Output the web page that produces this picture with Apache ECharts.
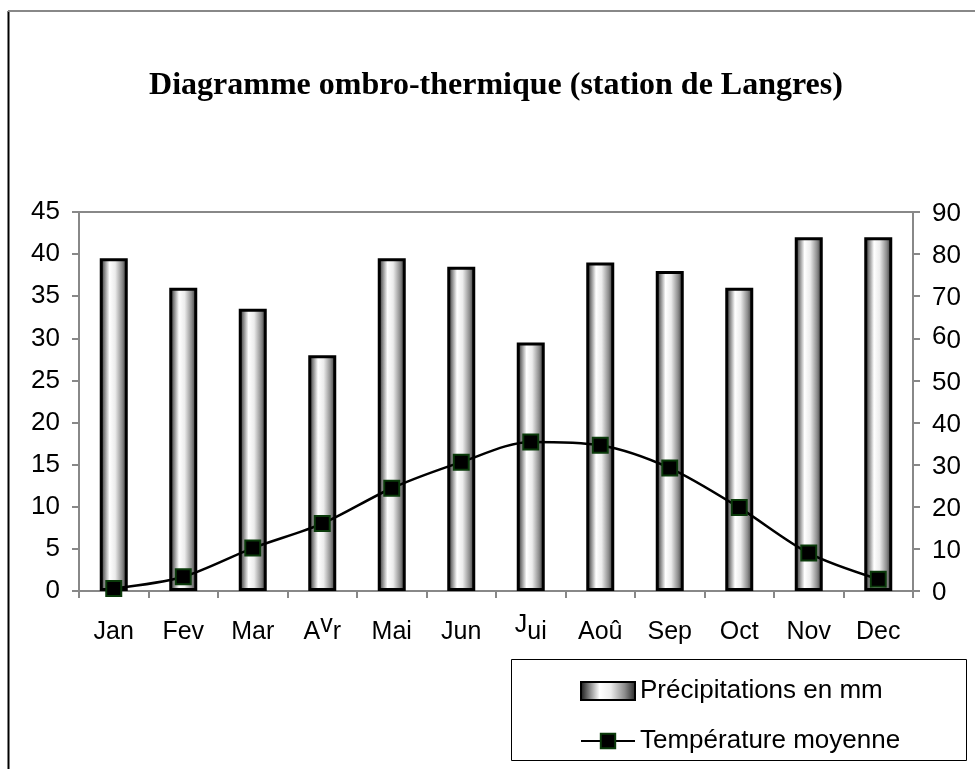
<!DOCTYPE html>
<html>
<head>
<meta charset="utf-8">
<script src="https://cdn.jsdelivr.net/npm/echarts@6/dist/echarts.min.js"></script>
<style>
  html, body { margin: 0; padding: 0; background: #fff; }
  #chart { width: 975px; height: 769px; }
</style>
</head>
<body>
<div id="chart"></div>
<script>
var months = ['Jan', 'Fev', 'Mar', 'Avr', 'Mai', 'Jun', 'Jui', 'Aoû', 'Sep', 'Oct', 'Nov', 'Dec'];
// precipitation in mm (right axis)
var precipitation = [79, 72, 67, 56, 79, 77, 59, 78, 76, 72, 84, 84];
// mean temperature in °C (left axis)
var temperature = [0.3, 1.7, 5.1, 8.0, 12.2, 15.3, 17.7, 17.3, 14.6, 9.9, 4.5, 1.4];
var tempTicks = [0, 45, 5];
var rainTicks = [0, 90, 10];

var chart = echarts.init(document.getElementById('chart'));

var barGradient = new echarts.graphic.LinearGradient(0, 0, 1, 0, [
  { offset: 0, color: '#111111' },
  { offset: 0.15, color: '#777777' },
  { offset: 0.35, color: '#ffffff' },
  { offset: 0.55, color: '#ececec' },
  { offset: 0.8, color: '#8c8c8c' },
  { offset: 1, color: '#222222' }
]);

var labelFont = 'Liberation Sans, Arial, sans-serif';
var richParts = {
  n: { fontSize: 25, fontFamily: labelFont, color: '#000', lineHeight: 32, verticalAlign: 'bottom' },
  u: { fontSize: 25, fontFamily: labelFont, color: '#000', lineHeight: 32, verticalAlign: 'top' }
};

function oddLabel(v) {
  // some glyphs sit higher in the original picture
  if (v === 'Avr') return '{n|A}{u|v}{n|r}';
  if (v === 'Jui') return '{u|J}{n|ui}';
  if (v === '60') return '{u|6}{n|0}';
  return '{n|' + v + '}';
}

var option = {
  backgroundColor: '#ffffff',
  animation: false,
  graphic: [
    { type: 'line', shape: { x1: 8.5, y1: 11, x2: 8.5, y2: 780 }, style: { stroke: '#000', lineWidth: 2 } },
    { type: 'line', shape: { x1: 8, y1: 11, x2: 980, y2: 11 }, style: { stroke: '#888', lineWidth: 2 } },
    {
      type: 'text', x: 496, y: 86,
      style: {
        text: 'Diagramme ombro-thermique (station de Langres)',
        font: 'bold 32px "Liberation Serif", "Times New Roman", serif',
        fill: '#000', align: 'center', verticalAlign: 'middle'
      }
    },
    { type: 'rect', shape: { x: 511.5, y: 659.5, width: 455, height: 101 }, style: { fill: 'none', stroke: '#000', lineWidth: 1 } }
  ],
  grid: {
    left: 79, right: 62, top: 212, bottom: 178,
    show: true, borderColor: '#888', borderWidth: 2
  },
  legend: {
    orient: 'vertical',
    left: 575, top: 673,
    itemWidth: 54, itemHeight: 18, itemGap: 24,
    textStyle: { fontSize: 26, fontFamily: labelFont, color: '#000' },
    data: [
      { name: 'Précipitations en mm', icon: 'rect' },
      { name: 'Température moyenne' }
    ]
  },
  xAxis: {
    type: 'category',
    data: months,
    axisLine: { lineStyle: { color: '#888', width: 2 } },
    axisTick: { show: true, length: 7, lineStyle: { color: '#888', width: 2 } },
    axisLabel: { interval: 0, margin: 22, formatter: oddLabel, rich: richParts }
  },
  yAxis: [
    {
      type: 'value', min: tempTicks[0], max: tempTicks[1], interval: tempTicks[2],
      splitLine: { show: false },
      axisLine: { show: true, lineStyle: { color: '#888', width: 2 } },
      axisTick: { show: true, length: 7, lineStyle: { color: '#888', width: 2 } },
      axisLabel: { margin: 19, fontSize: 26, fontFamily: labelFont, color: '#000' }
    },
    {
      type: 'value', min: rainTicks[0], max: rainTicks[1], interval: rainTicks[2],
      position: 'right',
      splitLine: { show: false },
      axisLine: { show: true, lineStyle: { color: '#888', width: 2 } },
      axisTick: { show: true, length: 7, lineStyle: { color: '#888', width: 2 } },
      axisLabel: {
        margin: 19,
        formatter: function (v) { return oddLabel(String(v)); },
        rich: {
          n: { fontSize: 26, fontFamily: labelFont, color: '#000', lineHeight: 30, verticalAlign: 'bottom' },
          u: { fontSize: 26, fontFamily: labelFont, color: '#000', lineHeight: 30, verticalAlign: 'top' }
        }
      }
    }
  ],
  series: [
    {
      name: 'Précipitations en mm',
      type: 'bar',
      yAxisIndex: 1,
      barWidth: 28,
      itemStyle: { color: barGradient, borderColor: '#000', borderWidth: 3 },
      data: precipitation
    },
    {
      name: 'Température moyenne',
      type: 'line',
      yAxisIndex: 0,
      smooth: 0.3,
      symbol: 'rect',
      symbolSize: 15,
      lineStyle: { color: '#000', width: 2.5 },
      itemStyle: { color: '#000', borderColor: '#0a3a0a', borderWidth: 2 },
      data: temperature
    }
  ]
};

chart.setOption(option);
</script>
</body>
</html>
